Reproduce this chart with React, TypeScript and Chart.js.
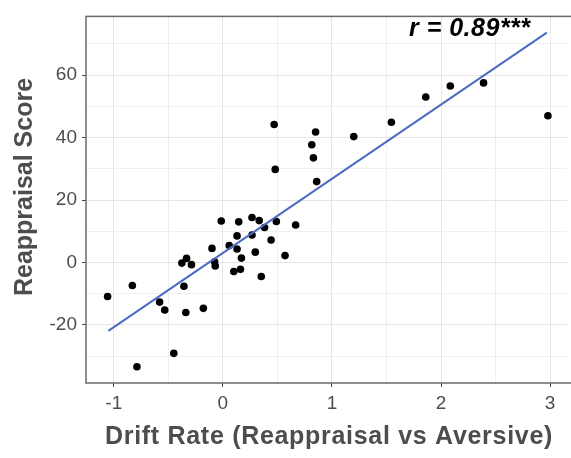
import React, { useEffect, useRef } from "react";
import { Chart, registerables } from "chart.js";

Chart.register(...registerables);

const driftRate = [
  0.47, 0.85, 0.815, 0.83, 0.48, 0.86, 1.2, 1.545, 1.86, 2.085, 2.39, 2.98,
  -1.057, -0.83, -0.788, -0.58, -0.533, -0.45, -0.357, -0.34, -0.376, -0.333,
  -0.288, -0.179, -0.1, -0.076, -0.07, -0.015, 0.058, 0.1, 0.13, 0.13, 0.145,
  0.161, 0.17, 0.267, 0.267, 0.297, 0.333, 0.352, 0.382, 0.442, 0.49, 0.57, 0.667,
];
const reappraisalScore = [
  44.2, 41.8, 37.7, 33.5, 29.8, 25.9, 40.3, 44.9, 53, 56.5, 57.5, 47,
  -10.9, -7.4, -33.4, -12.7, -15.2, -29.1, -7.6, -16, -0.2, 1.3,
  -0.7, -14.7, 4.5, 0.2, -1.1, 13.3, 5.4, -2.9, 8.5, 4.3, 13,
  -2.2, 1.4, 14.4, 8.8, 3.3, 13.4, -4.5, 11.2, 7.2, 13.1, 2.2, 12,
];
const fitX = [-1.05, 2.97];
const fitY = [-21.9, 73.6];
const xTickLabels = [-1, 0, 1, 2, 3];
const yTickLabels = [-20, 0, 20, 40, 60];
const annotationText = "r = 0.89***";
const xTitle = "Drift Rate (Reappraisal vs Aversive)";
const yTitle = "Reappraisal Score";

const FONT = "'Liberation Sans', Arial, Helvetica, sans-serif";

export default function App() {
  const ref = useRef<HTMLCanvasElement>(null);
  useEffect(() => {
    const canvas = ref.current!;
    const frame = {
      id: "frame",
      afterDraw(chart: any) {
        const { ctx, chartArea: a } = chart;
        ctx.save();
        ctx.strokeStyle = "#6a6a6a";
        ctx.lineWidth = 1.5;
        ctx.strokeRect(a.left, a.top, a.right - a.left + 10, a.bottom - a.top);

        ctx.fillStyle = "#000";
        ctx.textAlign = "left";
        ctx.textBaseline = "middle";
        ctx.font = `italic bold 25px ${FONT}`;
        (ctx as any).letterSpacing = "0.5px";
        ctx.fillText(annotationText, 409, 29);

        ctx.fillStyle = "#4d4d4d";
        ctx.textAlign = "center";
        ctx.font = `bold 25px ${FONT}`;
        (ctx as any).letterSpacing = "0.7px";
        ctx.fillText(xTitle, 329, 437);

        (ctx as any).letterSpacing = "0px";
        ctx.translate(25, 187);
        ctx.rotate(-Math.PI / 2);
        ctx.fillText(yTitle, 0, 0);
        ctx.restore();
      },
    };
    const chart = new Chart(canvas, {
      type: "scatter",
      data: {
        datasets: [
          {
            type: "line",
            data: fitX.map((x, i) => ({ x, y: fitY[i] })),
            borderColor: "#4a6cc0",
            borderWidth: 2,
            pointRadius: 0,
            fill: false,
          } as any,
          {
            data: driftRate.map((x, i) => ({ x, y: reappraisalScore[i] })),
            backgroundColor: "#000",
            borderColor: "#000",
            pointRadius: 3.8,
            borderWidth: 0,
          },
        ],
      },
      options: {
        animation: false,
        responsive: false,
        layout: { padding: { top: 8, right: 0, left: 0, bottom: 0 } },
        plugins: { legend: { display: false }, tooltip: { enabled: false } },
        scales: {
          x: {
            type: "linear",
            min: -1.255,
            max: 3.155,
            afterFit: (s: any) => {
              s.height = 75;
            },
            border: { display: false },
            grid: {
              color: (c: any) => (Number.isInteger(c.tick?.value) ? "#e6e6e6" : "#efefef"),
              lineWidth: 1,
              tickLength: 4,
              tickColor: (c: any) => (Number.isInteger(c.tick?.value) ? "#444" : "rgba(0,0,0,0)"),
            },
            ticks: {
              stepSize: 0.5,
              includeBounds: false,
              padding: 5,
              color: "#4d4d4d",
              font: { family: FONT, size: 19 },
              callback: (v: any) => (xTickLabels.includes(Number(v)) ? String(v) : ""),
              maxRotation: 0,
              autoSkip: false,
            },
          },
          y: {
            type: "linear",
            min: -38.6,
            max: 78.8,
            afterFit: (s: any) => {
              s.width = 86;
            },
            border: { display: false },
            grid: {
              color: (c: any) => (c.tick?.value % 20 === 0 ? "#e6e6e6" : "#efefef"),
              lineWidth: 1,
              tickLength: 4,
              tickColor: (c: any) => (c.tick?.value % 20 === 0 ? "#444" : "rgba(0,0,0,0)"),
            },
            ticks: {
              stepSize: 10,
              includeBounds: false,
              padding: 5,
              color: "#4d4d4d",
              font: { family: FONT, size: 19 },
              callback: (v: any) => (yTickLabels.includes(Number(v)) ? String(v) : ""),
              autoSkip: false,
            },
          },
        },
      },
      plugins: [frame],
    });
    return () => chart.destroy();
  }, []);
  return (
    <div style={{ position: "fixed", left: 0, top: 0, width: 571, height: 458, background: "#fff" }}>
      <canvas ref={ref} width={571} height={458} style={{ display: "block" }} />
    </div>
  );
}
